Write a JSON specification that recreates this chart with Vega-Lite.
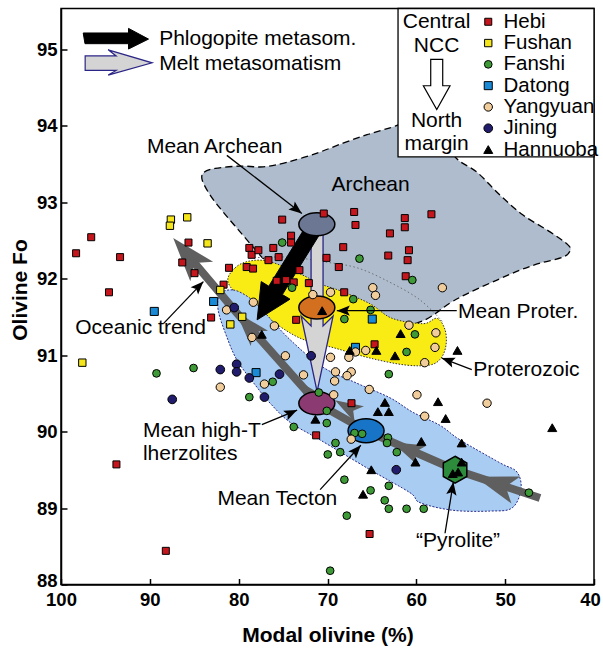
{
"$schema": "https://vega.github.io/schema/vega-lite/v6.json",
"width": 533,
"height": 576,
"autosize": "none",
"padding": {"left": 61, "top": 8.5, "right": 9, "bottom": 63.5},
"background": "white",
"config": {
  "view": {"stroke": "black", "strokeWidth": 1.5},
  "font": "Liberation Sans"
},
"encoding": {
  "x": {"field": "x", "type": "quantitative",
    "scale": {"domain": [40, 100], "reverse": true, "nice": false, "zero": false},
    "axis": {"title": "Modal olivine (%)", "values": [40, 50, 60, 70, 80, 90, 100], "format": "d", "grid": false, "labelFlush": false, "labelOverlap": false,
      "tickSize": -6, "tickWidth": 1.5, "tickColor": "black", "domainColor": "black", "domainWidth": 1.5,
      "labelOffset": {"condition": {"test": "datum.value == 40", "value": -4}, "value": 0},
      "labelPadding": 11.5, "labelFont": "Liberation Sans", "labelFontSize": 18.5, "labelFontWeight": "bold", "labelColor": "black",
      "titleFont": "Liberation Sans", "titleFontSize": 21, "titleFontWeight": "bold", "titleColor": "black",
      "titleY": 56.5, "titleBaseline": "alphabetic"}},
  "y": {"field": "y", "type": "quantitative",
    "scale": {"domain": [88, 95.53], "nice": false, "zero": false},
    "axis": {"title": "Olivine Fo", "values": [88, 88.5, 89, 89.5, 90, 90.5, 91, 91.5, 92, 92.5, 93, 93.5, 94, 94.5, 95, 95.5],
      "format": "d",
      "labelExpr": "datum.value % 1 == 0 ? datum.label : ''", "grid": false, "labelOverlap": false, "labelFlush": false,
      "tickSize": -6, "tickWidth": 1.5, "tickColor": "black", "domainColor": "black", "domainWidth": 1.5,
      "labelOffset": {"condition": {"test": "datum.value == 88", "value": -4}, "value": 0},
      "labelPadding": 10, "labelFont": "Liberation Sans", "labelFontSize": 18.5, "labelFontWeight": "bold", "labelColor": "black",
      "titleFont": "Liberation Sans", "titleFontSize": 21, "titleFontWeight": "bold", "titleColor": "black",
      "titleX": -35, "titleY": 281, "titleAngle": -90, "titleAlign": "center", "titleBaseline": "alphabetic"}}
},
"layer": [
  {"data": {"values": [
    {"i":0,"x":84.11,"y":93.29},{"i":1,"x":83.89,"y":93.39},{"i":2,"x":82.65,"y":93.44},{"i":3,"x":79.84,"y":93.47},
    {"i":4,"x":77.25,"y":93.46},{"i":5,"x":74.55,"y":93.52},{"i":6,"x":71.17,"y":93.64},{"i":7,"x":68.25,"y":93.77},
    {"i":8,"x":65.55,"y":93.88},{"i":9,"x":62.96,"y":93.97},{"i":10,"x":60.71,"y":94.05},{"i":11,"x":57.89,"y":94.01},
    {"i":12,"x":55.64,"y":93.59},{"i":13,"x":53.17,"y":93.39},{"i":14,"x":50.58,"y":93.09},{"i":15,"x":47.99,"y":92.83},
    {"i":16,"x":44.95,"y":92.61},{"i":17,"x":42.93,"y":92.44},{"i":18,"x":42.7,"y":92.36},{"i":19,"x":43.49,"y":92.28},
    {"i":20,"x":46.08,"y":92.2},{"i":21,"x":48.33,"y":92.11},{"i":22,"x":50.92,"y":91.98},{"i":23,"x":53.96,"y":91.82},
    {"i":24,"x":56.21,"y":91.68},{"i":25,"x":59.02,"y":91.46},{"i":26,"x":62.17,"y":91.37},{"i":27,"x":65.21,"y":91.48},
    {"i":28,"x":69.71,"y":91.72},{"i":29,"x":73.08,"y":91.92},{"i":30,"x":76.8,"y":92.22},{"i":31,"x":77.92,"y":92.35},
    {"i":32,"x":79.84,"y":92.61},{"i":33,"x":81.75,"y":92.87},{"i":34,"x":83.21,"y":93.09}]},
   "mark": {"type": "line", "interpolate": "cardinal-closed", "fill": "#aebccd", "stroke": "black", "strokeWidth": 1.3, "strokeDash": [7, 4]},
   "encoding": {"order": {"field": "i", "type": "quantitative"}}},
  {"data": {"values": [
    {"i":0,"x":78.71,"y":92.27},{"i":1,"x":74.21,"y":92.28},{"i":2,"x":70.5,"y":92.22},{"i":3,"x":66.67,"y":92.14},
    {"i":4,"x":62.96,"y":91.95},{"i":5,"x":59.58,"y":91.72},{"i":6,"x":56.99,"y":91.43}]},
   "mark": {"type": "line", "interpolate": "cardinal", "stroke": "#6f6f6f", "strokeWidth": 1, "strokeDash": [1.5, 2.5]},
   "encoding": {"order": {"field": "i", "type": "quantitative"}}},
  {"data": {"values": [
    {"i":0,"x":81.19,"y":91.95},{"i":1,"x":80.4,"y":92.14},{"i":2,"x":78.71,"y":92.23},{"i":3,"x":76.46,"y":92.22},
    {"i":4,"x":73.08,"y":92.06},{"i":5,"x":70.83,"y":91.93},{"i":6,"x":68.58,"y":91.84},{"i":7,"x":65.21,"y":91.67},
    {"i":8,"x":62.73,"y":91.48},{"i":9,"x":59.24,"y":91.41},{"i":10,"x":57.67,"y":91.48},{"i":11,"x":56.77,"y":91.33},
    {"i":12,"x":56.66,"y":91.13},{"i":13,"x":57.22,"y":90.96},{"i":14,"x":58.46,"y":90.87},{"i":15,"x":61.27,"y":90.87},
    {"i":16,"x":65.21,"y":90.96},{"i":17,"x":69.15,"y":91.09},{"i":18,"x":73.08,"y":91.22},{"i":19,"x":76.46,"y":91.46},
    {"i":20,"x":79.27,"y":91.69}]},
   "mark": {"type": "line", "interpolate": "cardinal-closed", "fill": "#f9ec14", "stroke": "#333333", "strokeWidth": 1, "strokeDash": [1.5, 1.5]},
   "encoding": {"order": {"field": "i", "type": "quantitative"}}},
  {"data": {"values": [
    {"i":0,"x":82.09,"y":91.8},{"i":1,"x":80.62,"y":91.85},{"i":2,"x":78.94,"y":91.76},{"i":3,"x":77.36,"y":91.59},
    {"i":4,"x":74.21,"y":91.2},{"i":5,"x":70.5,"y":90.84},{"i":6,"x":66.67,"y":90.63},{"i":7,"x":62.96,"y":90.44},
    {"i":8,"x":60.37,"y":90.25},{"i":9,"x":57.33,"y":90.08},{"i":10,"x":55.08,"y":89.89},{"i":11,"x":50.58,"y":89.59},
    {"i":12,"x":48.67,"y":89.47},{"i":13,"x":48.22,"y":89.24},{"i":14,"x":49.23,"y":89.0},{"i":15,"x":51.7,"y":88.96},
    {"i":16,"x":55.87,"y":88.97},{"i":17,"x":59.58,"y":89.07},{"i":18,"x":60.71,"y":89.2},{"i":19,"x":65.21,"y":89.5},
    {"i":20,"x":70.83,"y":89.89},{"i":21,"x":74.21,"y":90.12},{"i":22,"x":76.46,"y":90.37},{"i":23,"x":78.15,"y":90.61},
    {"i":24,"x":80.17,"y":90.93},{"i":25,"x":81.41,"y":91.26},{"i":26,"x":82.31,"y":91.59}]},
   "mark": {"type": "line", "interpolate": "cardinal-closed", "fill": "#a9cdf2", "stroke": "#2a2a8a", "strokeWidth": 1, "strokeDash": [2, 1.5]},
   "encoding": {"order": {"field": "i", "type": "quantitative"}}},
  {"data": {"values": [
    {"i":0,"x":46.08,"y":89.13},{"i":1,"x":55.64,"y":89.5},{"i":2,"x":65.66,"y":90.01},{"i":3,"x":71.17,"y":90.37},
    {"i":4,"x":80.29,"y":91.56},{"i":5,"x":85.46,"y":92.27}]},
   "mark": {"type": "line", "stroke": "#5f5f5f", "strokeWidth": 8, "strokeCap": "butt"},
   "encoding": {"order": {"field": "i", "type": "quantitative"}}},
  {"data": {"values": [{"x": 87.37, "y": 92.53}]},
   "mark": {"type": "point", "shape": "M0,0 L-0.34,1 L0,0.75 L0.34,1 Z", "size": 7744, "angle": 319.6, "filled": true, "color": "#5f5f5f", "opacity": 1}},
  {"data": {"values": [{"x": 80.29, "y": 91.56}]},
   "mark": {"type": "point", "shape": "M0,0 L-0.33,1 L0,0.75 L0.33,1 Z", "size": 4900, "angle": 318.3, "filled": true, "color": "#5f5f5f", "opacity": 1}},
  {"data": {"values": [{"x": 73.31, "y": 90.66}]},
   "mark": {"type": "point", "shape": "M0,0 L-0.33,1 L0,0.75 L0.33,1 Z", "size": 2704, "angle": 318.3, "filled": true, "color": "#5f5f5f", "opacity": 1}},
  {"data": {"values": [{"x": 69.15, "y": 90.41}]},
   "mark": {"type": "point", "shape": "M0,0 L-0.33,1 L0,0.75 L0.33,1 Z", "size": 3136, "angle": 300, "filled": true, "color": "#5f5f5f", "opacity": 1}},
  {"data": {"values": [{"x": 62.73, "y": 89.86}]},
   "mark": {"type": "point", "shape": "M0,0 L-0.33,1 L0,0.75 L0.33,1 Z", "size": 4356, "angle": 293.7, "filled": true, "color": "#5f5f5f", "opacity": 1}},
  {"data": {"values": [{"x": 53.39, "y": 89.41}]},
   "mark": {"type": "point", "shape": "M0,0 L-0.33,1 L0,0.75 L0.33,1 Z", "size": 7396, "angle": 288.2, "filled": true, "color": "#5f5f5f", "opacity": 1}},
  {"data": {"values": [
    {"i":0,"x":71.85,"y":92.71},{"i":1,"x":71.85,"y":91.38},{"i":2,"x":72.97,"y":91.51},{"i":3,"x":71.17,"y":90.52},
    {"i":4,"x":69.37,"y":91.51},{"i":5,"x":70.5,"y":91.38},{"i":6,"x":70.5,"y":92.71}]},
   "mark": {"type": "line", "interpolate": "linear-closed", "fill": "#d4d4d4", "stroke": "#2b2585", "strokeWidth": 1.3},
   "encoding": {"order": {"field": "i", "type": "quantitative"}}},
  {"data": {"values": [
    {"i":0,"x":70.44,"y":92.66},{"i":1,"x":75.08,"y":91.79},{"i":2,"x":74.22,"y":91.73},{"i":3,"x":77.92,"y":91.46},
    {"i":4,"x":77.46,"y":91.96},{"i":5,"x":76.61,"y":91.9},{"i":6,"x":71.97,"y":92.77}]},
   "mark": {"type": "line", "interpolate": "linear-closed", "fill": "black", "stroke": "black", "strokeWidth": 1},
   "encoding": {"order": {"field": "i", "type": "quantitative"}}},
  {"data": {"values": [{"x": 71.2, "y": 92.71}]},
   "mark": {"type": "point", "shape": "M-1,0 A1,0.64 0 1,0 1,0 A1,0.64 0 1,0 -1,0 Z", "size": 1296, "filled": true, "fill": "#6b7793", "stroke": "black", "strokeWidth": 1.5, "opacity": 1}},
  {"data": {"values": [{"x": 71.2, "y": 91.62}]},
   "mark": {"type": "point", "shape": "M-1,0 A1,0.64 0 1,0 1,0 A1,0.64 0 1,0 -1,0 Z", "size": 1296, "filled": true, "fill": "#d2701f", "stroke": "black", "strokeWidth": 1.5, "opacity": 1}},
  {"data": {"values": [{"x": 71.2, "y": 90.37}]},
   "mark": {"type": "point", "shape": "M-1,0 A1,0.64 0 1,0 1,0 A1,0.64 0 1,0 -1,0 Z", "size": 1296, "filled": true, "fill": "#8b3a72", "stroke": "black", "strokeWidth": 1.5, "opacity": 1}},
  {"data": {"values": [{"x": 65.66, "y": 90.01}]},
   "mark": {"type": "point", "shape": "M-1,0 A1,0.66 0 1,0 1,0 A1,0.66 0 1,0 -1,0 Z", "size": 1296, "filled": true, "fill": "#1874c6", "stroke": "black", "strokeWidth": 1.5, "opacity": 1}},
  {"data": {"values": [{"x": 55.64, "y": 89.5}]},
   "mark": {"type": "point", "shape": "M0,-1 L0.87,-0.5 L0.87,0.5 L0,1 L-0.87,0.5 L-0.87,-0.5 Z", "size": 729, "filled": true, "fill": "#2d8c3c", "stroke": "black", "strokeWidth": 1.5, "opacity": 1}},
  {"data": {"values": [
    {"site":"Hebi","x":96.6,"y":92.54},{"site":"Hebi","x":98.3,"y":92.33},{"site":"Hebi","x":93.35,"y":92.28},{"site":"Hebi","x":94.6,"y":91.82},
    {"site":"Hebi","x":85.65,"y":92.47},{"site":"Hebi","x":86.35,"y":92.21},{"site":"Hebi","x":84.97,"y":92.07},{"site":"Hebi","x":81.09,"y":92.14},
    {"site":"Hebi","x":81.7,"y":91.92},{"site":"Hebi","x":83.1,"y":91.49},{"site":"Hebi","x":78.8,"y":92.4},{"site":"Hebi","x":78.54,"y":92.31},
    {"site":"Hebi","x":77.78,"y":92.37},{"site":"Hebi","x":79.1,"y":92.15},{"site":"Hebi","x":78.38,"y":92.13},{"site":"Hebi","x":70.42,"y":92.85},
    {"site":"Hebi","x":75.1,"y":92.77},{"site":"Hebi","x":67.0,"y":92.87},{"site":"Hebi","x":66.85,"y":92.7},{"site":"Hebi","x":74.1,"y":92.56},
    {"site":"Hebi","x":74.1,"y":92.47},{"site":"Hebi","x":61.3,"y":92.79},{"site":"Hebi","x":61.3,"y":92.67},{"site":"Hebi","x":58.3,"y":92.84},
    {"site":"Hebi","x":62.97,"y":92.59},{"site":"Hebi","x":68.23,"y":92.41},{"site":"Hebi","x":63.16,"y":92.3},{"site":"Hebi","x":60.83,"y":92.37},
    {"site":"Hebi","x":60.98,"y":92.24},{"site":"Hebi","x":61.2,"y":92.03},{"site":"Hebi","x":70.11,"y":92.27},{"site":"Hebi","x":68.73,"y":92.15},
    {"site":"Hebi","x":73.16,"y":92.11},{"site":"Hebi","x":76.1,"y":92.4},{"site":"Hebi","x":75.5,"y":92.28},{"site":"Hebi","x":76.65,"y":92.24},
    {"site":"Hebi","x":75.72,"y":91.97},{"site":"Hebi","x":74.66,"y":91.98},{"site":"Hebi","x":73.8,"y":91.95},{"site":"Hebi","x":72.1,"y":91.94},
    {"site":"Hebi","x":68.12,"y":91.82},{"site":"Hebi","x":73.53,"y":91.46},{"site":"Hebi","x":64.7,"y":91.14},{"site":"Hebi","x":67.3,"y":90.37},
    {"site":"Hebi","x":71.28,"y":89.95},{"site":"Hebi","x":93.76,"y":89.57},{"site":"Hebi","x":88.2,"y":88.44},{"site":"Hebi","x":65.26,"y":88.66},
    {"site":"Fushan","x":87.63,"y":92.77},{"site":"Fushan","x":87.74,"y":92.69},{"site":"Fushan","x":85.79,"y":92.8},{"site":"Fushan","x":83.5,"y":92.46},
    {"site":"Fushan","x":82.07,"y":91.85},{"site":"Fushan","x":79.6,"y":91.5},{"site":"Fushan","x":80.94,"y":91.4},{"site":"Fushan","x":97.6,"y":90.9},
    {"site":"Fanshi","x":75.1,"y":92.47},{"site":"Fanshi","x":66.4,"y":92.26},{"site":"Fanshi","x":60.45,"y":91.98},{"site":"Fanshi","x":73.99,"y":91.88},
    {"site":"Fanshi","x":67.1,"y":91.73},{"site":"Fanshi","x":65.15,"y":91.59},{"site":"Fanshi","x":68.1,"y":91.47},{"site":"Fanshi","x":60.16,"y":91.27},
    {"site":"Fanshi","x":61.1,"y":91.04},{"site":"Fanshi","x":89.25,"y":90.76},{"site":"Fanshi","x":85.08,"y":90.83},{"site":"Fanshi","x":78.8,"y":90.45},
    {"site":"Fanshi","x":76.17,"y":90.65},{"site":"Fanshi","x":63.1,"y":90.75},{"site":"Fanshi","x":70.98,"y":90.51},{"site":"Fanshi","x":70.08,"y":90.27},
    {"site":"Fanshi","x":70.08,"y":90.11},{"site":"Fanshi","x":73.8,"y":90.06},{"site":"Fanshi","x":66.96,"y":89.98},{"site":"Fanshi","x":66.1,"y":89.97},
    {"site":"Fanshi","x":63.2,"y":89.92},{"site":"Fanshi","x":63.3,"y":89.85},{"site":"Fanshi","x":69.1,"y":89.85},{"site":"Fanshi","x":68.57,"y":89.73},
    {"site":"Fanshi","x":69.97,"y":89.7},{"site":"Fanshi","x":62.2,"y":89.73},{"site":"Fanshi","x":68.1,"y":89.37},{"site":"Fanshi","x":63.1,"y":89.29},
    {"site":"Fanshi","x":65.15,"y":89.23},{"site":"Fanshi","x":63.56,"y":89.1},{"site":"Fanshi","x":63.1,"y":88.99},{"site":"Fanshi","x":61.1,"y":88.99},
    {"site":"Fanshi","x":59.17,"y":88.99},{"site":"Fanshi","x":67.83,"y":88.9},{"site":"Fanshi","x":69.7,"y":88.18},{"site":"Fanshi","x":47.33,"y":89.2},
    {"site":"Datong","x":89.5,"y":91.57},{"site":"Datong","x":82.82,"y":91.7},{"site":"Datong","x":64.96,"y":91.47},{"site":"Datong","x":66.85,"y":91.1},
    {"site":"Datong","x":78.04,"y":90.77},
    {"site":"Yangyuan","x":57.07,"y":91.88},{"site":"Yangyuan","x":64.9,"y":91.88},{"site":"Yangyuan","x":64.6,"y":91.78},{"site":"Yangyuan","x":69.66,"y":91.82},
    {"site":"Yangyuan","x":71.65,"y":91.79},{"site":"Yangyuan","x":78.35,"y":91.69},{"site":"Yangyuan","x":75.98,"y":91.38},{"site":"Yangyuan","x":78.5,"y":91.23},
    {"site":"Yangyuan","x":60.83,"y":91.39},{"site":"Yangyuan","x":57.8,"y":91.29},{"site":"Yangyuan","x":57.9,"y":91.1},{"site":"Yangyuan","x":65.7,"y":91.06},
    {"site":"Yangyuan","x":66.85,"y":91.04},{"site":"Yangyuan","x":67.6,"y":90.97},{"site":"Yangyuan","x":69.66,"y":90.97},{"site":"Yangyuan","x":74.74,"y":90.99},
    {"site":"Yangyuan","x":59.06,"y":90.9},{"site":"Yangyuan","x":72.7,"y":90.74},{"site":"Yangyuan","x":69.1,"y":90.78},{"site":"Yangyuan","x":67.33,"y":90.78},
    {"site":"Yangyuan","x":67.8,"y":90.73},{"site":"Yangyuan","x":69.2,"y":90.66},{"site":"Yangyuan","x":65.3,"y":90.55},{"site":"Yangyuan","x":69.3,"y":90.48},
    {"site":"Yangyuan","x":59.93,"y":90.48},{"site":"Yangyuan","x":59.06,"y":90.2},{"site":"Yangyuan","x":52.04,"y":90.37},{"site":"Yangyuan","x":67.33,"y":89.9},
    {"site":"Yangyuan","x":81.36,"y":91.59},{"site":"Yangyuan","x":82.07,"y":90.58},{"site":"Yangyuan","x":77.1,"y":90.62},
    {"site":"Jining","x":80.5,"y":91.62},{"site":"Jining","x":71.84,"y":90.99},{"site":"Jining","x":87.48,"y":90.42},{"site":"Jining","x":82.07,"y":90.81},
    {"site":"Jining","x":80.23,"y":90.88},{"site":"Jining","x":80.23,"y":90.78},{"site":"Jining","x":78.8,"y":90.7},{"site":"Jining","x":77.1,"y":90.45},
    {"site":"Jining","x":75.4,"y":90.75},{"site":"Jining","x":62.26,"y":89.5},
    {"site":"Hannuoba","x":70.6,"y":91.58},{"site":"Hannuoba","x":77.4,"y":91.27},{"site":"Hannuoba","x":61.77,"y":91.28},{"site":"Hannuoba","x":64.5,"y":91.06},
    {"site":"Hannuoba","x":67.5,"y":91.06},{"site":"Hannuoba","x":62.4,"y":90.99},{"site":"Hannuoba","x":55.37,"y":91.06},{"site":"Hannuoba","x":57.56,"y":90.39},
    {"site":"Hannuoba","x":56.7,"y":90.17},{"site":"Hannuoba","x":44.7,"y":90.05},{"site":"Hannuoba","x":59.44,"y":89.87},{"site":"Hannuoba","x":54.9,"y":89.85},
    {"site":"Hannuoba","x":63.54,"y":90.38},{"site":"Hannuoba","x":64.33,"y":90.26},{"site":"Hannuoba","x":63.1,"y":90.26},{"site":"Hannuoba","x":71.36,"y":90.16},
    {"site":"Hannuoba","x":65.07,"y":89.5},{"site":"Hannuoba","x":66.0,"y":89.18},{"site":"Hannuoba","x":60.1,"y":89.6},{"site":"Hannuoba","x":55.9,"y":89.45},
    {"site":"Hannuoba","x":55.3,"y":89.47},{"site":"Hannuoba","x":54.9,"y":89.6}]},
   "mark": {"type": "point", "filled": true, "opacity": 1, "stroke": "black", "strokeWidth": 1},
   "encoding": {
     "color": {"field": "site", "type": "nominal",
       "scale": {"domain": ["Hebi","Fushan","Fanshi","Datong","Yangyuan","Jining","Hannuoba"], "range": ["#c4161c","#f5e51b","#3e9a36","#1a8ad6","#f1cd9b","#221c6d","#000000"]},
       "legend": {"title": null, "orient": "none", "legendX": 417, "legendY": 3, "padding": 0, "labelFont": "Liberation Sans", "labelFontSize": 20.5, "labelColor": "black", "labelOffset": 5, "rowPadding": 0.3, "symbolStrokeColor": "black", "symbolStrokeWidth": 1}},
     "shape": {"field": "site", "type": "nominal",
       "scale": {"domain": ["Hebi","Fushan","Fanshi","Datong","Yangyuan","Jining","Hannuoba"], "range": ["square","square","circle","square","circle","circle","triangle-up"]},
       "legend": {"title": null, "orient": "none", "legendX": 417, "legendY": 3, "padding": 0, "labelFont": "Liberation Sans", "labelFontSize": 20.5, "labelColor": "black", "labelOffset": 5, "rowPadding": 0.3, "symbolStrokeColor": "black", "symbolStrokeWidth": 1}},
     "size": {"field": "site", "type": "nominal",
       "scale": {"domain": ["Hebi","Fushan","Fanshi","Datong","Yangyuan","Jining","Hannuoba"], "range": [49, 81, 60, 81, 66, 55, 100]},
       "legend": {"title": null, "orient": "none", "legendX": 417, "legendY": 3, "padding": 0, "labelFont": "Liberation Sans", "labelFontSize": 20.5, "labelColor": "black", "labelOffset": 5, "rowPadding": 0.3, "symbolStrokeColor": "black", "symbolStrokeWidth": 1}}
   }},
  {"data": {"values": [
    {"x":81.33,"y":93.61,"x2":72.89,"y2":92.85},{"x":88.47,"y":91.41,"x2":83.97,"y2":91.96},{"x":55.45,"y":91.58,"x2":68.95,"y2":91.58},
    {"x":53.76,"y":90.81,"x2":57.14,"y2":90.96},{"x":77.39,"y":90.09,"x2":73.42,"y2":90.28},{"x":70.83,"y":89.24,"x2":66.25,"y2":89.82},
    {"x":56.77,"y":88.67,"x2":55.83,"y2":89.34}]},
   "mark": {"type": "rule", "stroke": "black", "strokeWidth": 1.3},
   "encoding": {"x2": {"field": "x2"}, "y2": {"field": "y2"}}},
  {"data": {"values": [{"x": 72.89, "y": 92.85}]},
   "mark": {"type": "point", "shape": "M0,0 L-0.4,1 L0,0.8 L0.4,1 Z", "size": 676, "angle": 128, "filled": true, "color": "black", "opacity": 1}},
  {"data": {"values": [{"x": 83.97, "y": 91.96}]},
   "mark": {"type": "point", "shape": "M0,0 L-0.4,1 L0,0.8 L0.4,1 Z", "size": 676, "angle": 44, "filled": true, "color": "black", "opacity": 1}},
  {"data": {"values": [{"x": 68.95, "y": 91.58}]},
   "mark": {"type": "point", "shape": "M0,0 L-0.4,1 L0,0.8 L0.4,1 Z", "size": 676, "angle": 270, "filled": true, "color": "black", "opacity": 1}},
  {"data": {"values": [{"x": 57.14, "y": 90.96}]},
   "mark": {"type": "point", "shape": "M0,0 L-0.4,1 L0,0.8 L0.4,1 Z", "size": 676, "angle": 290, "filled": true, "color": "black", "opacity": 1}},
  {"data": {"values": [{"x": 73.42, "y": 90.28}]},
   "mark": {"type": "point", "shape": "M0,0 L-0.4,1 L0,0.8 L0.4,1 Z", "size": 676, "angle": 65, "filled": true, "color": "black", "opacity": 1}},
  {"data": {"values": [{"x": 66.25, "y": 89.82}]},
   "mark": {"type": "point", "shape": "M0,0 L-0.4,1 L0,0.8 L0.4,1 Z", "size": 676, "angle": 42, "filled": true, "color": "black", "opacity": 1}},
  {"data": {"values": [{"x": 55.83, "y": 89.34}]},
   "mark": {"type": "point", "shape": "M0,0 L-0.4,1 L0,0.8 L0.4,1 Z", "size": 676, "angle": 9, "filled": true, "color": "black", "opacity": 1}},
  {"data": {"values": [{"x": 62.06, "y": 95.53, "x2": 40, "y2": 93.59}]},
   "mark": {"type": "rect", "fill": "white", "stroke": "black", "strokeWidth": 1.3},
   "encoding": {"x2": {"field": "x2"}, "y2": {"field": "y2"}}},
  {"data": {"values": [
    {"i":0,"x":58.38,"y":94.865},{"i":1,"x":58.38,"y":94.52},{"i":2,"x":59.21,"y":94.52},{"i":3,"x":57.7,"y":94.21},
    {"i":4,"x":56.21,"y":94.52},{"i":5,"x":57.03,"y":94.52},{"i":6,"x":57.03,"y":94.865}]},
   "mark": {"type": "line", "interpolate": "linear-closed", "fill": "white", "stroke": "black", "strokeWidth": 1.2},
   "encoding": {"order": {"field": "i", "type": "quantitative"}}},
  {"data": {"values": [
    {"i":0,"x":97.5,"y":95.21},{"i":1,"x":92.4,"y":95.21},{"i":2,"x":92.4,"y":95.27},{"i":3,"x":90.15,"y":95.13},
    {"i":4,"x":92.4,"y":95.0},{"i":5,"x":92.4,"y":95.07},{"i":6,"x":97.3,"y":95.07}]},
   "mark": {"type": "line", "interpolate": "linear-closed", "fill": "black", "stroke": "black", "strokeWidth": 1},
   "encoding": {"order": {"field": "i", "type": "quantitative"}}},
  {"data": {"values": [
    {"i":0,"x":97.28,"y":94.91},{"i":1,"x":93.79,"y":94.91},{"i":2,"x":94.69,"y":94.99},{"i":3,"x":89.74,"y":94.82},
    {"i":4,"x":94.69,"y":94.66},{"i":5,"x":93.79,"y":94.72},{"i":6,"x":97.28,"y":94.72}]},
   "mark": {"type": "line", "interpolate": "linear-closed", "fill": "#d4d4d4", "stroke": "#2b2585", "strokeWidth": 1.2},
   "encoding": {"order": {"field": "i", "type": "quantitative"}}},
  {"data": {"values": [
    {"t":"Phlogopite metasom.","x":88.95,"y":95.05},{"t":"Melt metasomatism","x":88.95,"y":94.72},
    {"t":"Mean Archean","x":90.33,"y":93.64},{"t":"Oceanic trend","x":98.4,"y":91.28},
    {"t":"Mean Proter.","x":55.3,"y":91.48},{"t":"Proterozoic","x":53.58,"y":90.72},
    {"t":"Mean high-T","x":90.78,"y":89.93},{"t":"lherzolites","x":90.78,"y":89.63},
    {"t":"Mean Tecton","x":82.39,"y":89.04}]},
   "mark": {"type": "text", "align": "left", "baseline": "alphabetic", "font": "Liberation Sans", "fontSize": 21, "color": "black"},
   "encoding": {"text": {"field": "t"}}},
  {"data": {"values": [
    {"t":"Archean","x":65.15,"y":93.14},{"t":"\u201cPyrolite\u201d","x":55.3,"y":88.49},
    {"t":"Central","x":57.72,"y":95.27},{"t":"NCC","x":57.72,"y":94.96},
    {"t":"North","x":57.72,"y":93.98},{"t":"margin","x":57.72,"y":93.68}]},
   "mark": {"type": "text", "align": "center", "baseline": "alphabetic", "font": "Liberation Sans", "fontSize": 21, "color": "black"},
   "encoding": {"text": {"field": "t"}}}
]
}
